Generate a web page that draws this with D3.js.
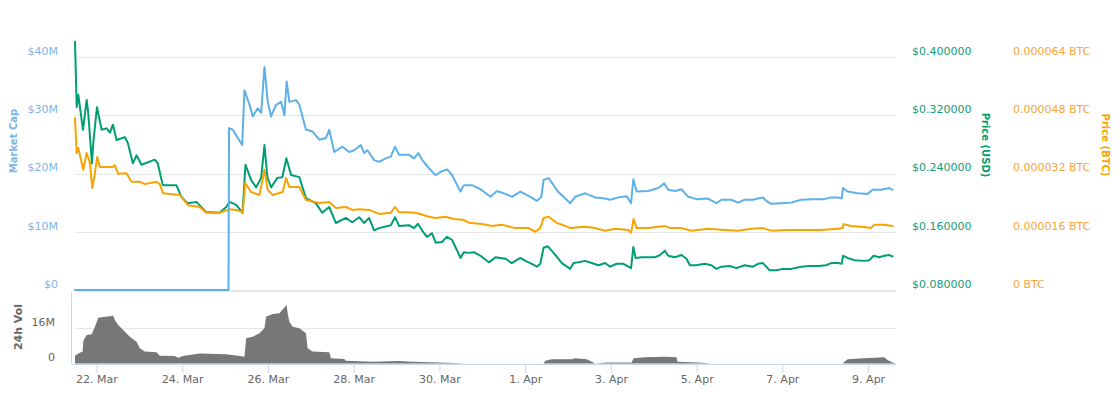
<!DOCTYPE html>
<html><head><meta charset="utf-8">
<script src="https://cdn.jsdelivr.net/npm/d3@7"></script>
<style>
body{margin:0;background:#fff;}
svg{display:block;font-family:"DejaVu Sans",Verdana,sans-serif;}
</style>
</head><body>
<svg id="chart" width="1119" height="393"></svg>
<script>
// Time is given as day-of-March (32 = 1 Apr, 40.5 = 9 Apr 12:00)
const mcapDays = [21.5,25.08,25.093,25.181,25.298,25.4,25.453,25.57,25.647,25.763,
 25.842,25.919,25.995,26.074,26.191,26.307,26.384,26.437,26.5,26.656,
 26.733,26.888,27.042,27.198,27.353,27.43,27.547,27.74,27.895,28.012,
 28.167,28.244,28.321,28.477,28.593,28.749,28.865,28.965,29.058,29.291,
 29.407,29.507,29.6,29.756,29.912,30.028,30.181,30.298,30.414,30.493,
 30.57,30.763,30.958,31.19,31.344,31.54,31.693,31.888,32.121,32.274,
 32.377,32.43,32.547,32.663,32.763,32.895,33.051,33.167,33.4,33.633,
 33.865,33.981,34.174,34.367,34.47,34.523,34.6,34.872,35.105,35.244,
 35.337,35.493,35.647,35.802,35.995,36.267,36.46,36.577,36.81,36.965,
 37.121,37.314,37.43,37.547,37.623,37.74,37.972,38.205,38.437,38.709,
 38.981,39.135,39.291,39.384,39.414,39.523,39.756,39.988,40.105,40.298,
 40.493,40.57];
// Market cap, millions of USD
const mcapValues = [0,0,27.8,27.5,26.1,24.9,34.3,31.8,29.8,31.2,
 30.4,38.3,32.3,29.8,31.8,32.3,30.0,35.8,32.3,32.6,
 31.8,27.5,27.2,25.8,26.1,27.5,23.7,24.6,23.7,24.0,
 24.9,23.5,24.0,22.3,22.0,22.6,22.9,24.6,23.2,23.2,
 22.6,23.5,22.3,20.9,19.7,20.3,20.7,19.7,18.0,16.9,
 18.0,18.0,17.3,16.0,17.0,16.5,16.0,16.9,16.0,15.3,
 16.0,18.9,19.2,18.0,16.9,16.0,14.9,16.0,16.6,15.9,
 15.7,15.5,15.9,16.1,14.9,19.0,16.9,17.0,17.5,18.3,
 17.2,17.0,17.3,16.0,15.6,15.7,14.9,15.5,15.5,15.0,
 15.5,15.5,15.7,15.9,15.3,14.8,14.9,15.0,15.5,15.6,
 15.6,15.9,15.9,15.7,17.5,16.9,16.6,16.5,17.2,17.2,
 17.5,17.2];

const usdDays = [21.5,21.54,21.577,21.686,21.772,21.809,21.895,21.926,22.012,22.121,
 22.237,22.314,22.384,22.47,22.663,22.733,22.849,22.935,23.051,23.36,
 23.43,23.547,23.865,23.981,24.128,24.33,24.563,24.872,25.028,25.105,
 25.26,25.407,25.477,25.609,25.726,25.842,25.919,25.988,26.074,26.221,
 26.337,26.43,26.54,26.733,26.888,27.121,27.267,27.43,27.586,27.819,
 27.965,28.128,28.244,28.36,28.477,28.593,28.865,28.965,29.058,29.291,
 29.407,29.5,29.593,29.709,29.826,29.912,30.058,30.174,30.291,30.407,
 30.493,30.57,30.686,30.802,30.958,31.151,31.307,31.54,31.686,31.888,
 32.005,32.121,32.274,32.353,32.43,32.53,32.663,32.856,33.051,33.128,
 33.244,33.4,33.553,33.709,33.865,33.981,34.135,34.291,34.407,34.47,
 34.523,34.577,34.716,34.872,35.028,35.144,35.26,35.337,35.493,35.647,
 35.763,35.842,35.995,36.191,36.344,36.46,36.577,36.772,36.926,37.121,
 37.314,37.43,37.547,37.623,37.702,37.856,38.012,38.205,38.437,38.633,
 38.865,39.019,39.135,39.291,39.384,39.414,39.523,39.679,39.912,40.028,
 40.128,40.26,40.377,40.493,40.57];
// Price in USD
const usdValues = [0.421,0.331,0.348,0.300,0.341,0.323,0.254,0.282,0.331,0.300,
 0.302,0.296,0.307,0.286,0.290,0.282,0.254,0.265,0.252,0.259,
 0.254,0.224,0.224,0.208,0.199,0.201,0.187,0.186,0.194,0.201,
 0.197,0.186,0.252,0.231,0.221,0.234,0.279,0.235,0.221,0.234,
 0.235,0.261,0.238,0.235,0.206,0.199,0.186,0.194,0.172,0.179,
 0.173,0.180,0.172,0.179,0.162,0.165,0.169,0.180,0.168,0.169,
 0.165,0.171,0.162,0.153,0.158,0.145,0.146,0.153,0.149,0.135,
 0.124,0.132,0.131,0.132,0.127,0.118,0.125,0.123,0.117,0.124,
 0.120,0.117,0.112,0.116,0.138,0.140,0.131,0.117,0.109,0.117,
 0.118,0.120,0.117,0.114,0.117,0.112,0.116,0.116,0.112,0.110,
 0.139,0.124,0.125,0.125,0.125,0.128,0.134,0.127,0.125,0.128,
 0.123,0.114,0.114,0.116,0.114,0.109,0.112,0.113,0.110,0.114,
 0.112,0.116,0.117,0.112,0.107,0.107,0.109,0.109,0.112,0.113,
 0.113,0.114,0.117,0.117,0.116,0.127,0.124,0.121,0.120,0.121,
 0.127,0.125,0.127,0.128,0.126];

const btcDays = [21.5,21.54,21.577,21.693,21.772,21.849,21.902,21.949,22.019,22.081,
 22.237,22.391,22.43,22.507,22.702,22.819,23.012,23.128,23.4,23.477,
 23.553,23.942,24.135,24.407,24.563,24.872,25.105,25.26,25.414,25.47,
 25.609,25.802,25.919,25.995,26.112,26.344,26.423,26.5,26.733,26.888,
 27.198,27.43,27.586,27.819,27.972,28.128,28.36,28.593,28.865,28.965,
 29.058,29.447,29.756,29.912,30.144,30.337,30.57,30.686,30.995,31.228,
 31.46,31.772,32.081,32.237,32.353,32.43,32.547,32.74,32.935,33.051,
 33.4,33.633,33.865,34.098,34.407,34.47,34.53,34.6,34.872,35.26,
 35.377,35.647,35.879,36.267,36.656,36.965,37.274,37.547,37.74,38.128,
 38.516,38.902,39.291,39.4,39.43,39.6,39.912,40.065,40.144,40.377,
 40.57];
// Price in micro-BTC (1e-6 BTC)
const btcValues = [47.2,37.6,39.0,33.0,37.6,34.9,28.0,31.0,36.5,33.8,
 33.8,33.8,34.3,31.9,32.1,29.7,29.7,29.1,29.7,29.1,
 26.6,26.1,23.3,22.8,21.2,21.2,22.2,22.0,21.4,29.4,
 26.9,26.1,33.0,27.5,26.1,26.9,30.8,28.3,28.3,24.7,
 23.9,24.2,22.5,22.8,22.0,22.2,22.0,20.9,21.2,22.8,
 21.4,21.2,20.1,19.8,20.1,19.5,19.2,18.5,18.1,17.6,
 17.9,17.0,17.0,16.0,17.0,19.8,20.1,18.4,17.6,17.0,
 17.4,17.0,16.3,16.8,16.5,15.7,19.5,17.0,17.0,17.6,
 17.0,17.0,16.3,16.8,16.5,16.3,16.8,17.0,16.3,16.5,
 16.5,16.5,16.8,17.0,18.1,17.6,17.3,17.0,17.9,17.9,
 17.6];

const volDays = [21.5,21.577,21.679,21.693,21.772,21.888,21.965,22.042,22.121,22.391,
 22.43,22.507,22.623,22.779,22.935,23.012,23.128,23.4,23.477,23.826,
 23.902,24.019,24.174,24.407,25.028,25.337,25.453,25.493,25.647,25.802,
 25.919,25.958,26.112,26.267,26.437,26.46,26.5,26.577,26.733,26.888,
 26.926,27.042,27.43,27.47,27.779,27.819,28.437,29.058,29.36,29.988,
 30.523,30.57,32.43,32.469,32.623,33.088,33.167,33.437,33.553,33.633,
 33.902,34.484,34.53,34.795,35.26,35.53,35.553,36.035,36.344,39.407,
 39.447,39.523,39.912,40.377,40.453,40.57];
// 24h volume, millions of USD
const volValues = [3.5,4.6,5.4,10.2,13.0,13.3,16.7,20.8,21.0,21.7,
 19.8,17.5,15.2,12.2,9.9,6.9,5.4,5.1,3.5,3.4,
 2.6,3.4,3.9,4.6,4.2,3.4,3.1,11.5,12.2,13.7,
 16.0,21.3,22.5,22.8,26.6,22.8,19.0,16.7,16.0,13.7,
 6.9,5.4,5.1,2.4,2.0,1.3,0.8,1.1,0.8,0.4,
 0.1,0,0,1.3,1.9,1.9,2.4,1.9,0.8,0,
 0.4,0.4,2.4,2.8,3.1,2.8,0.8,0.4,0,0,
 0.8,1.9,2.4,2.8,1.6,0.4];

const mcapTicks = [0,10,20,30,40];
const usdTicks = [0.08,0.16,0.24,0.32,0.40];
const btcTicks = [0,16,32,48,64];
const volTicks = [0,16];
const dateTicks = ["2018-03-22","2018-03-24","2018-03-26","2018-03-28","2018-03-30",
 "2018-04-01","2018-04-03","2018-04-05","2018-04-07","2018-04-09"];

const C = {mcap:"#5db0e8", mcapText:"#7cb5ec", usd:"#009e73", usdText:"#159c76",
  btc:"#f9a300", btcText:"#f7a535", vol:"#777777", grid:"#e6e6e6", axis:"#ccd6eb", text:"#666666"};

const toDate = d => new Date(Date.UTC(2018,2,1) + (d-1)*864e5);
const svg = d3.select("#chart");

const x = d3.scaleUtc().domain([toDate(21.5), toDate(40.65)]).range([75, 896]);
const yM = d3.scaleLinear().domain([0,40]).range([290,57]);
const yU = d3.scaleLinear().domain([0.08,0.40]).range([290,57]);
const yB = d3.scaleLinear().domain([0,64]).range([290,57]);
const yV = d3.scaleLinear().domain([0,16]).range([363.5,328.3]);

// grid
const g = svg.append("g");
g.selectAll("line.gm").data(mcapTicks).join("line")
  .attr("x1",75).attr("x2",896).attr("y1",d=>Math.round(yM(d))+0.5).attr("y2",d=>Math.round(yM(d))+0.5)
  .attr("stroke",C.grid).attr("stroke-width",1);
g.append("line").attr("x1",75).attr("x2",896).attr("y1",291.5).attr("y2",291.5).attr("stroke",C.grid);
g.selectAll("line.gv").data(volTicks.filter(v=>v>0)).join("line")
  .attr("x1",75).attr("x2",896).attr("y1",d=>Math.round(yV(d))+0.5).attr("y2",d=>Math.round(yV(d))+0.5)
  .attr("stroke",C.grid);

// tick labels
const lab = (sel, ticks, scale, xx, anchor, color, fmt) => {
  sel.selectAll(null).data(ticks).join("text")
    .attr("x",xx).attr("y",d=>scale(d)-6).attr("dy","0.35em")
    .attr("text-anchor",anchor).attr("fill",color).attr("font-size",11)
    .text(fmt);
};
lab(svg.append("g"), mcapTicks, yM, 58, "end", C.mcapText, d=> d===0?"$0":"$"+d+"M");
lab(svg.append("g"), usdTicks, yU, 912, "start", C.usdText, d=> "$"+d.toFixed(6));
lab(svg.append("g"), btcTicks, yB, 1013, "start", C.btcText, d=> d===0?"0 BTC":(d/1e6).toFixed(6)+" BTC");
lab(svg.append("g"), volTicks, yV, 55, "end", C.text, d=> d===0?"0":d+"M");

// axis titles
svg.append("text").attr("transform","translate(13,141) rotate(-90)").attr("text-anchor","middle")
  .attr("dy","0.35em").attr("fill",C.mcapText).attr("font-size",10).attr("font-weight","bold").text("Market Cap");
svg.append("text").attr("transform","translate(985,145) rotate(90)").attr("text-anchor","middle")
  .attr("dy","0.35em").attr("fill",C.usd).attr("font-size",10).attr("font-weight","bold").text("Price (USD)");
svg.append("text").attr("transform","translate(1105,145) rotate(90)").attr("text-anchor","middle")
  .attr("dy","0.35em").attr("fill",C.btc).attr("font-size",10).attr("font-weight","bold").text("Price (BTC)");
svg.append("text").attr("transform","translate(18,327) rotate(-90)").attr("text-anchor","middle")
  .attr("dy","0.35em").attr("fill",C.text).attr("font-size",11).attr("font-weight","bold").text("24h Vol");

// volume
const vol = volDays.map((d,i)=>({t:toDate(d), v:volValues[i]}));
vol.push({t:toDate(40.65), v:0});
svg.append("path").datum(vol)
  .attr("d", d3.area().x(d=>x(d.t)).y0(yV(0)).y1(d=>yV(d.v)))
  .attr("fill",C.vol);

// x axis
const xa = svg.append("g").attr("transform","translate(0,364)")
  .call(d3.axisBottom(x).tickValues(dateTicks.map(s=>new Date(s+"T00:00:00Z")))
    .tickFormat(d3.utcFormat("%-d. %b")).tickSize(9).tickPadding(2));
xa.select(".domain").remove();
xa.selectAll(".tick line").attr("stroke",C.axis);
xa.selectAll(".tick text").attr("fill",C.text).attr("font-size",11).attr("font-family","DejaVu Sans, Verdana, sans-serif");
svg.append("line").attr("x1",72).attr("x2",896).attr("y1",364.5).attr("y2",364.5).attr("stroke",C.axis);
svg.append("line").attr("x1",71.5).attr("x2",71.5).attr("y1",292).attr("y2",364).attr("stroke",C.axis);

// lines
const line = (days, vals, ys, color) => {
  const data = days.map((d,i)=>({t:toDate(d), v:vals[i]}));
  svg.append("path").datum(data)
    .attr("d", d3.line().x(d=>x(d.t)).y(d=>ys(d.v)))
    .attr("fill","none").attr("stroke",color).attr("stroke-width",2)
    .attr("stroke-linejoin","round").attr("stroke-linecap","round");
};
line(usdDays, usdValues, yU, C.usd);
line(btcDays, btcValues, yB, C.btc);
line(mcapDays, mcapValues, yM, C.mcap);
</script>
</body></html>
